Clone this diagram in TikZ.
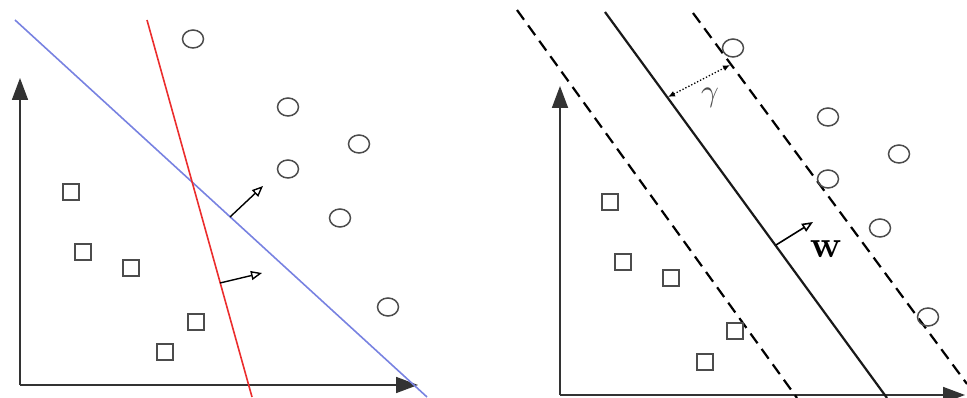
\documentclass[tikz,border=0pt]{standalone}
\usetikzlibrary{arrows.meta,shapes.geometric}
\begin{document}
\begin{tikzpicture}[x=1pt,y=-1pt,
  axis/.style={line width=1.8pt,draw=black!80,-{Triangle[length=22pt,width=16pt]}},
  circ/.style={ellipse,draw=black!70,line width=1.5pt,minimum width=21pt,minimum height=18pt,inner sep=0pt},
  sq/.style={rectangle,draw=black!70,line width=1.5pt,minimum size=16pt,inner sep=0pt},
  sep/.style={line width=1.6pt},
  margin/.style={line width=2.2pt,dash pattern=on 12pt off 7pt},
  normal/.style={line width=1.4pt,-{Triangle[open,length=11pt,width=9pt]}},
  lbl/.style={inner sep=0pt}]
\useasboundingbox (0,0) rectangle (967,398);
% ---------- left panel ----------
\coordinate (lo) at (20,385);
\coordinate (ly) at (20,78);
\coordinate (lx) at (418,385);
\draw[axis] (lo) -- (ly);
\draw[axis] (lo) -- (lx);
\coordinate (b1) at (15,20);
\coordinate (b2) at (427,397);
\coordinate (r1) at (147,20);
\coordinate (r2) at (252,397);
\draw[sep,draw={rgb,255:red,120;green,130;blue,225}] (b1) -- (b2);
\draw[sep,draw={rgb,255:red,235;green,45;blue,45}] (r1) -- (r2);
\coordinate (bn0) at (230,217);
\coordinate (bn1) at (263,186);
\coordinate (rn0) at (220,283);
\coordinate (rn1) at (262,273);
\draw[normal] (bn0) -- (bn1);
\draw[normal] (rn0) -- (rn1);
\node[circ] (lc1) at (193,39) {};
\node[circ] (lc2) at (288,107) {};
\node[circ] (lc3) at (359,144) {};
\node[circ] (lc4) at (288,169) {};
\node[circ] (lc5) at (340,218) {};
\node[circ] (lc6) at (388,307) {};
\node[sq] (ls1) at (71,192) {};
\node[sq] (ls2) at (83,252) {};
\node[sq] (ls3) at (131,268) {};
\node[sq] (ls4) at (196,322) {};
\node[sq] (ls5) at (165,352) {};
% ---------- right panel ----------
\coordinate (ro) at (560,395);
\coordinate (ry) at (560,86);
\coordinate (rx) at (965,395);
\draw[axis] (ro) -- (ry);
\draw[axis] (ro) -- (rx);
\coordinate (s1) at (605,12);
\coordinate (s2) at (887,398);
\coordinate (d1) at (517,10);
\coordinate (d2) at (797,398);
\coordinate (e1) at (693,13);
\coordinate (e2) at (967,384);
\draw[line width=2.2pt,draw=black!90] (s1) -- (s2);
\draw[margin] (d1) -- (d2);
\draw[margin] (e1) -- (e2);
\node[circ] (rc1) at (733,48) {};
\node[circ] (rc2) at (828,117) {};
\node[circ] (rc3) at (899,154) {};
\node[circ] (rc4) at (828,179) {};
\node[circ] (rc5) at (880,228) {};
\node[circ] (rc6) at (928,317) {};
\node[sq] (rs1) at (610,202) {};
\node[sq] (rs2) at (623,262) {};
\node[sq] (rs3) at (671,278) {};
\node[sq] (rs4) at (735,331) {};
\node[sq] (rs5) at (705,362) {};
\coordinate (g0) at (668,97);
\coordinate (g1) at (730,65);
\draw[line width=1.3pt,dotted,{Latex[length=7pt,width=6pt]}-{Latex[length=7pt,width=6pt]}] (g0) -- (g1);
\node[lbl,text=black!70,scale=3.1] (gam) at (710,98) {$\gamma$};
\coordinate (w0) at (776,245);
\coordinate (w1) at (813,222);
\draw[normal,line width=1.6pt] (w0) -- (w1);
\node[lbl,scale=3.8] (wl) at (826,249) {$\mathbf{w}$};
\end{tikzpicture}
\end{document}
